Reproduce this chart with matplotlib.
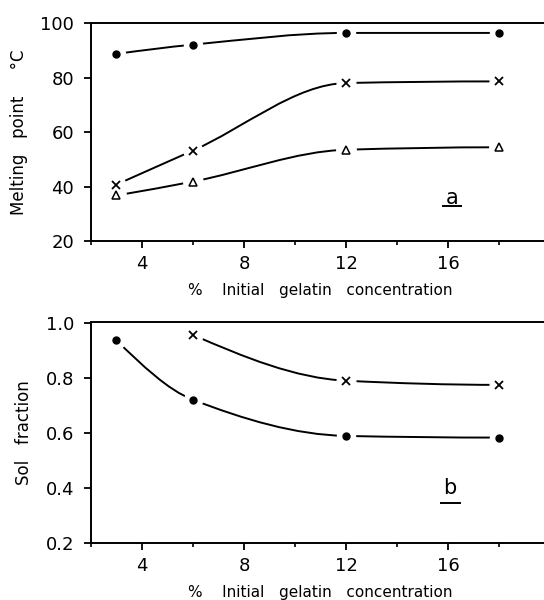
import matplotlib

matplotlib.use("Agg")

import matplotlib.pyplot as plt
import numpy as np
from matplotlib.path import Path
from matplotlib.patches import PathPatch
from matplotlib.ticker import MultipleLocator

# panel a: melting point (deg C) vs initial gelatin concentration (%)
conc = [3, 6, 12, 18]
melt_dots = [88.8, 92.2, 96.5, 96.5]
melt_cross = [40.8, 53.3, 78.1, 78.7]
melt_tri = [36.8, 41.9, 53.6, 54.5]

# panel b: sol fraction
sol_dots = [0.935, 0.72, 0.589, 0.583]
conc_cross = [6, 12, 18]
sol_cross = [0.955, 0.789, 0.774]

plt.rcParams["font.family"] = "DejaVu Sans"


def _slopes(xs, ys):
    # monotone (Fritsch-Carlson) tangents, used only to shape the bezier curve
    xs, ys = np.asarray(xs, float), np.asarray(ys, float)
    h = np.diff(xs)
    d = np.diff(ys) / h
    m = np.zeros_like(xs)
    for k in range(1, len(xs) - 1):
        if d[k - 1] * d[k] > 0:
            w1 = 2 * h[k] + h[k - 1]
            w2 = h[k] + 2 * h[k - 1]
            m[k] = (w1 + w2) / (w1 / d[k - 1] + w2 / d[k])
    m[0] = ((2 * h[0] + h[1]) * d[0] - h[0] * d[1]) / (h[0] + h[1]) if len(h) > 1 else d[0]
    if np.sign(m[0]) != np.sign(d[0]):
        m[0] = 0
    m[-1] = ((2 * h[-1] + h[-2]) * d[-1] - h[-1] * d[-2]) / (h[-1] + h[-2]) if len(h) > 1 else d[-1]
    if np.sign(m[-1]) != np.sign(d[-1]):
        m[-1] = 0
    return xs, ys, h, m


def smooth_curve(ax, xs, ys):
    xs, ys, h, m = _slopes(xs, ys)
    verts = [(xs[0], ys[0])]
    codes = [Path.MOVETO]
    for k in range(len(h)):
        verts += [
            (xs[k] + h[k] / 3, ys[k] + m[k] * h[k] / 3),
            (xs[k + 1] - h[k] / 3, ys[k + 1] - m[k + 1] * h[k] / 3),
            (xs[k + 1], ys[k + 1]),
        ]
        codes += [Path.CURVE4] * 3
    ax.add_patch(PathPatch(Path(verts, codes), fill=False, edgecolor="black", lw=1.4, zorder=2))


def marks(ax, xs, ys, marker, ms, **kw):
    # white disc under each marker leaves the small gap seen in the original
    ax.plot(xs, ys, linestyle="none", marker="o", ms=ms + 8, mfc="white", mec="white", zorder=3)
    ax.plot(xs, ys, linestyle="none", marker=marker, ms=ms, color="black", zorder=4, **kw)


def style_axes(ax):
    ax.spines["right"].set_visible(False)
    for s in ("left", "bottom", "top"):
        ax.spines[s].set_linewidth(1.4)
        ax.spines[s].set_zorder(5)
    ax.set_xlim(2, 20)
    ax.xaxis.set_minor_locator(MultipleLocator(2))
    ax.set_xticks([4, 8, 12, 16])
    ax.tick_params(which="major", direction="out", length=5, width=1.3, labelsize=13, pad=5)
    ax.tick_params(axis="y", which="major", pad=7)
    ax.tick_params(which="minor", direction="out", length=3, width=1.2)
    ax.set_xlabel("%    Initial   gelatin   concentration", fontsize=11, labelpad=7)


fig = plt.figure(figsize=(5.44, 6.0), dpi=100)
ax1 = fig.add_axes([0.167, 0.598, 0.845, 0.363])
ax2 = fig.add_axes([0.167, 0.0945, 0.845, 0.368])

# panel a
style_axes(ax1)
ax1.set_ylim(20, 100)
ax1.set_yticks([20, 40, 60, 80, 100])
ax1.set_ylabel("Melting   point     °C", fontsize=12, labelpad=9)
for ys in (melt_dots, melt_cross, melt_tri):
    smooth_curve(ax1, conc, ys)
marks(ax1, conc, melt_dots, "o", 5)
marks(ax1, conc, melt_cross, "x", 5.5, mew=1.3)
marks(ax1, conc, melt_tri, "^", 6, mfc="white", mew=1.1)
ax1.text(0.786, 0.20, "a", transform=ax1.transAxes, ha="center", va="center", fontsize=15)
ax1.plot([0.767, 0.806], [0.162, 0.162], color="black", lw=1.4, transform=ax1.transAxes)

# panel b
style_axes(ax2)
ax2.set_ylim(0.2, 1.0)
ax2.set_yticks([0.2, 0.4, 0.6, 0.8, 1.0])
ax2.set_yticklabels(["0.2", "0.4", "0.6", "0.8", "1.0"])
ax2.set_ylabel("Sol   fraction", fontsize=12, labelpad=9)
smooth_curve(ax2, conc, sol_dots)
smooth_curve(ax2, conc_cross, sol_cross)
marks(ax2, conc, sol_dots, "o", 5)
marks(ax2, conc_cross, sol_cross, "x", 5.5, mew=1.3)
ax2.text(0.78, 0.25, "b", transform=ax2.transAxes, ha="center", va="center", fontsize=15)
ax2.plot([0.762, 0.802], [0.184, 0.184], color="black", lw=1.4, transform=ax2.transAxes)

fig.savefig("out.png", dpi=100)
plt.close(fig)
